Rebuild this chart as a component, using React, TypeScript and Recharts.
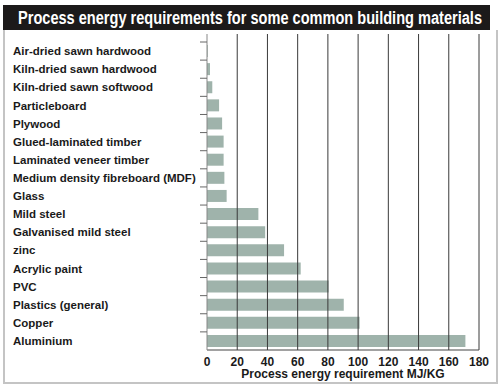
import React from 'react';
import { BarChart, Bar, XAxis, YAxis, ReferenceLine } from 'recharts';

// materials, top to bottom
const materials = [
  'Air-dried sawn hardwood',
  'Kiln-dried sawn hardwood',
  'Kiln-dried sawn softwood',
  'Particleboard',
  'Plywood',
  'Glued-laminated timber',
  'Laminated veneer timber',
  'Medium density fibreboard (MDF)',
  'Glass',
  'Mild steel',
  'Galvanised mild steel',
  'zinc',
  'Acrylic paint',
  'PVC',
  'Plastics (general)',
  'Copper',
  'Aluminium',
];

// MJ/kg
const energy = [0.5, 2, 3.5, 8, 10, 11, 11, 11.5, 13, 34, 38.5, 51, 62, 80.5, 90.5, 101, 171];

const xTicks = [0, 20, 40, 60, 80, 100, 120, 140, 160, 180];

const chartData = materials.map((name, i) => ({ name, value: energy[i] }));

const FONT = '"Liberation Sans", Arial, sans-serif';
const BAND = (350 - 42) / materials.length;

const CategoryTick = (props: any) => {
  const { y, payload } = props;
  return (
    <g>
      <line x1={200} x2={207} y1={y - BAND / 2} y2={y - BAND / 2} stroke="#666" strokeWidth={1} />
      <text x={13} y={y} dy="0.36em" fontFamily={FONT} fontWeight="bold" fontSize={11.5} fill="#1a1a1a">
        {payload.value}
      </text>
    </g>
  );
};

const App: React.FC = () => {
  return (
    <div style={{ position: 'absolute', left: 0, top: 0, width: 504, height: 388, background: '#fff' }}>
      <div
        style={{
          position: 'absolute',
          left: 3,
          top: 30,
          width: 491,
          height: 352,
          borderLeft: '2px solid #c4c4c4',
          borderRight: '2px solid #c4c4c4',
          borderBottom: '2px solid #c4c4c4',
        }}
      />
      {/* title bar: the original uses a condensed face, so squeeze the text to its width */}
      <svg style={{ position: 'absolute', left: 3, top: 5 }} width={487} height={25}>
        <rect x={0} y={0} width={487} height={25} fill="#1c1a1a" />
        <text
          x={15}
          y={19}
          textLength={464}
          lengthAdjust="spacingAndGlyphs"
          fontFamily={FONT}
          fontWeight="bold"
          fontSize={18}
          fill="#fff"
        >
          Process energy requirements for some common building materials
        </text>
      </svg>
      <div style={{ position: 'absolute', left: 0, top: 0 }}>
        <BarChart
          width={504}
          height={388}
          data={chartData}
          layout="vertical"
          margin={{ top: 34, right: 25, bottom: 0, left: 0 }}
        >
          <XAxis
            type="number"
            domain={[0, 180]}
            ticks={xTicks}
            height={38}
            axisLine={{ stroke: '#444' }}
            tickLine={false}
            tickSize={6}
            tickMargin={1}
            tick={{ fontFamily: FONT, fontWeight: 'bold', fontSize: 12, fill: '#1a1a1a' }}
            label={{
              value: 'Process energy requirement MJ/KG',
              position: 'insideBottom',
              offset: 10,
              style: { fontFamily: FONT, fontWeight: 'bold', fontSize: 12, fill: '#1a1a1a' },
            }}
          />
          <YAxis
            type="category"
            dataKey="name"
            width={207}
            padding={{ top: 8, bottom: 0 }}
            axisLine={{ stroke: '#888' }}
            tickLine={false}
            interval={0}
            tick={<CategoryTick />}
          />
          <Bar dataKey="value" fill="#9fb3ab" barSize={12} isAnimationActive={false} />
          {xTicks.slice(1).map((t) => (
            <ReferenceLine key={t} x={t} stroke="#3a3a3a" strokeWidth={1} ifOverflow="extendDomain" />
          ))}
        </BarChart>
      </div>
    </div>
  );
};

export default App;
